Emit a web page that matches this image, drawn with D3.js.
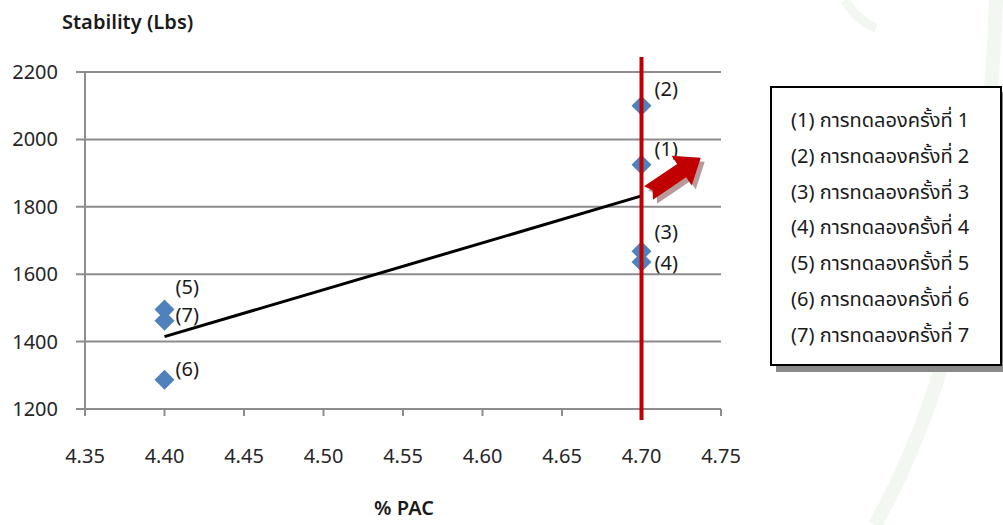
<!DOCTYPE html>
<html>
<head>
<meta charset="utf-8">
<script src="https://cdn.jsdelivr.net/npm/d3@7"></script>
<style>
  html, body { margin: 0; padding: 0; background: #ffffff; }
  svg { display: block; }
  text { font-family: "Noto Sans Thai", "Leelawadee UI", Tahoma, "Noto Sans", "DejaVu Sans", sans-serif; }
</style>
</head>
<body>
<svg id="chart" width="1003" height="525"></svg>
<script>
// ---- data ----
const trials = ["(1)", "(2)", "(3)", "(4)", "(5)", "(6)", "(7)"];
const pacValues = [4.70, 4.70, 4.70, 4.70, 4.40, 4.40, 4.40];
const stabilityValues = [1925, 2100, 1668, 1636, 1495, 1287, 1462];
const legendLabels = [
  "(1) การทดลองครั้งที่ 1",
  "(2) การทดลองครั้งที่ 2",
  "(3) การทดลองครั้งที่ 3",
  "(4) การทดลองครั้งที่ 4",
  "(5) การทดลองครั้งที่ 5",
  "(6) การทดลองครั้งที่ 6",
  "(7) การทดลองครั้งที่ 7"
];
const xTicks = [4.35, 4.40, 4.45, 4.50, 4.55, 4.60, 4.65, 4.70, 4.75];
const yTicks = [1200, 1400, 1600, 1800, 2000, 2200];
const markerLine = 4.70;

// ---- layout (not data) ----
const labelOffsets = [[13, -16], [13, -17], [13, -19], [13, 1], [11, -23], [11, -11], [11, -6]];

(function () {
const svg = d3.select("#chart");
const mL = 85, mR = 721, mT = 72, mB = 409;
const FS = 20;

const x = d3.scaleLinear().domain([4.35, 4.75]).range([mL, mR]);
const y = d3.scaleLinear().domain([1200, 2200]).range([mB, mT]);

// faint watermark
const wm = svg.append("g").attr("fill", "none").attr("stroke", "#f2f7f2");
wm.append("path").attr("d", "M 996 0 Q 985 330 875 525").attr("stroke-width", 14);
wm.append("path").attr("d", "M 845 0 Q 856 20 876 28").attr("stroke-width", 9);

// gridlines
svg.append("g")
  .selectAll("line").data(yTicks).join("line")
  .attr("x1", mL - 9).attr("x2", mR)
  .attr("y1", d => y(d)).attr("y2", d => y(d))
  .attr("stroke", "#8c8c8c").attr("stroke-width", 2);

// y axis line
svg.append("line")
  .attr("x1", mL).attr("x2", mL)
  .attr("y1", mT).attr("y2", mB + 6)
  .attr("stroke", "#8c8c8c").attr("stroke-width", 2);

// x axis ticks
svg.append("g")
  .selectAll("line").data(xTicks).join("line")
  .attr("x1", d => x(d)).attr("x2", d => x(d))
  .attr("y1", mB).attr("y2", mB + 7)
  .attr("stroke", "#8c8c8c").attr("stroke-width", 2);

// y tick labels
svg.append("g")
  .selectAll("text").data(yTicks).join("text")
  .attr("x", 58).attr("y", d => y(d))
  .attr("dy", "0.35em")
  .attr("text-anchor", "end")
  .attr("font-size", FS).attr("fill", "#262626")
  .text(d => d);

// x tick labels
svg.append("g")
  .selectAll("text").data(xTicks).join("text")
  .attr("x", d => x(d)).attr("y", 456)
  .attr("dy", "0.35em")
  .attr("text-anchor", "middle")
  .attr("font-size", FS).attr("fill", "#262626")
  .text(d => d3.format(".2f")(d));

// axis titles
svg.append("text").attr("x", 62).attr("y", 22).attr("dy", "0.35em")
  .attr("font-size", FS).attr("font-weight", 600).attr("fill", "#1a1a1a")
  .text("Stability (Lbs)");
svg.append("text").attr("x", 404).attr("y", 508).attr("dy", "0.35em")
  .attr("text-anchor", "middle")
  .attr("font-size", FS).attr("font-weight", 600).attr("fill", "#1a1a1a")
  .text("% PAC");

// trend line through group means
const groups = d3.rollups(pacValues.map((p, i) => ({p, s: stabilityValues[i]})), v => d3.mean(v, d => d.s), d => d.p)
  .sort((a, b) => a[0] - b[0]);
svg.append("path")
  .datum(groups)
  .attr("d", d3.line().x(d => x(d[0])).y(d => y(d[1])))
  .attr("fill", "none").attr("stroke", "#000").attr("stroke-width", 3);

// points
const pts = pacValues.map((p, i) => ({p, s: stabilityValues[i], label: trials[i], off: labelOffsets[i]}));
const diamond = (cx, cy, r) => `M${cx},${cy - r}L${cx + r},${cy}L${cx},${cy + r}L${cx - r},${cy}Z`;
svg.append("g")
  .selectAll("path").data(pts).join("path")
  .attr("d", d => diamond(x(d.p), y(d.s), 10))
  .attr("fill", "#4f81bd");

// red marker line
svg.append("line")
  .attr("x1", x(markerLine)).attr("x2", x(markerLine))
  .attr("y1", 57).attr("y2", mB + 11)
  .attr("stroke", "#c00000").attr("stroke-width", 4);

// point labels
svg.append("g")
  .selectAll("text").data(pts).join("text")
  .attr("x", d => x(d.p) + d.off[0]).attr("y", d => y(d.s) + d.off[1])
  .attr("dy", "0.35em")
  .attr("font-size", FS).attr("fill", "#1a1a1a")
  .text(d => d.label);

// block arrow
const arrowPts = [[0, -8], [40, -8], [40, -18], [63, 0], [40, 18], [40, 8], [0, 8], [5, 0]];
const arrowPath = "M" + arrowPts.map(p => p.join(",")).join("L") + "Z";
const arrowX = x(markerLine) + 7, arrowY = 193;
svg.append("path").attr("d", arrowPath)
  .attr("transform", `translate(${arrowX + 4},${arrowY + 4}) rotate(-34)`)
  .attr("fill", "#b89a9a");
svg.append("path").attr("d", arrowPath)
  .attr("transform", `translate(${arrowX},${arrowY}) rotate(-34)`)
  .attr("fill", "#c00000");

// legend
const lg = svg.append("g");
lg.append("rect").attr("x", 776).attr("y", 92).attr("width", 232).attr("height", 280).attr("fill", "#8a8a8a");
lg.append("rect").attr("x", 771).attr("y", 87).attr("width", 230).attr("height", 278)
  .attr("fill", "#fff").attr("stroke", "#000").attr("stroke-width", 2);
lg.selectAll("text").data(legendLabels).join("text")
  .attr("x", 791).attr("y", (d, i) => 120 + i * 35.8)
  .attr("dy", "0.35em")
  .attr("font-size", FS).attr("fill", "#1a1a1a")
  .text(d => d);
})();
</script>
</body>
</html>
